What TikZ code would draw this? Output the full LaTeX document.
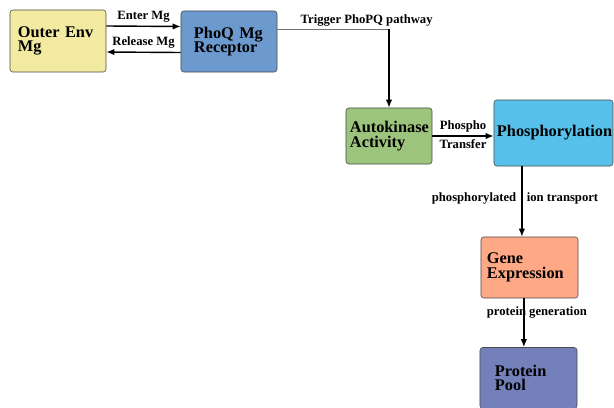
\documentclass[tikz,border=0pt]{standalone}
\usepackage{fontspec}
\setmainfont{Liberation Serif}
\usetikzlibrary{arrows.meta}

\definecolor{outerc}{HTML}{F2EAA0}
\definecolor{phoqc}{HTML}{6C99CE}
\definecolor{autoc}{HTML}{9DC47D}
\definecolor{phosc}{HTML}{57C0EB}
\definecolor{genec}{HTML}{FFA885}
\definecolor{poolc}{HTML}{7480BA}

\begin{document}
\begin{tikzpicture}[x=0.025cm, y=-0.025cm,
  box/.style={draw=black!70, rounded corners=2pt, align=left, inner ysep=0pt,
    font=\fontsize{11.6}{10.5}\selectfont\bfseries},
  lbl/.style={font=\fontsize{9}{10}\selectfont\bfseries, inner sep=2pt},
  flow/.style={-{Latex[length=2mm,width=1.6mm]}, line width=1pt},
  thinline/.style={draw=black!55, line width=0.6pt}]
\clip (0,0) rectangle (614,408);

\node[box, fill=outerc, minimum height=1.55cm, text width=2.0cm, inner xsep=2mm](outer) at (58,41) {Outer Env\\Mg};
\node[box, fill=phoqc, minimum height=1.525cm, text width=1.75cm, inner xsep=3.25mm](phoq) at (229,41.5) {PhoQ Mg\\Receptor};
\node[box, fill=autoc, minimum height=1.4cm, text width=1.95cm, inner xsep=1mm](auto) at (389,136) {Autokinase\\Activity};
\node[box, fill=phosc, minimum height=1.65cm, text width=2.825cm, inner xsep=0.75mm](phos) at (553.5,133) {Phosphorylation};
\node[box, fill=genec, minimum height=1.525cm, text width=2.125cm, inner xsep=1.5mm](gene) at (529.5,267.5) {Gene\\Expression};
\node[box, fill=poolc, minimum height=1.525cm, text width=1.675cm, inner xsep=3.75mm](pool) at (528.5,378) {Protein\\Pool};

\draw[flow] ([yshift=3.75mm]outer.east) -- ([yshift=3.75mm]phoq.west) node[lbl, above, midway]{Enter Mg};
\draw[flow] ([yshift=-2.75mm]phoq.west) -- ([yshift=-2.75mm]outer.east) node[lbl, above, midway]{Release Mg};

\coordinate (turn) at ([yshift=3.1mm]phoq.east -| auto.north);
\draw[thinline] ([yshift=3.1mm]phoq.east) -- (turn) node[lbl, above, pos=0.8]{Trigger PhoPQ pathway};
\draw[flow] (turn) -- (auto.north);

\draw[flow] (auto.east) -- (auto.east -| phos.west) node[lbl, above, midway]{Phospho} node[lbl, below, midway]{Transfer};

\draw[flow] ([xshift=-7.9mm]phos.south) -- ([xshift=-7.9mm]phos.south |- gene.north)
  node[lbl, left, pos=0.45, inner xsep=3.5pt]{phosphorylated} node[lbl, right, pos=0.45, inner xsep=3pt]{ion transport};
\draw[flow] ([xshift=-1.4mm]gene.south) -- ([xshift=-1.4mm]gene.south |- pool.north)
  node[lbl, pos=0.3, xshift=3.25mm]{protein generation};
\end{tikzpicture}
\end{document}
